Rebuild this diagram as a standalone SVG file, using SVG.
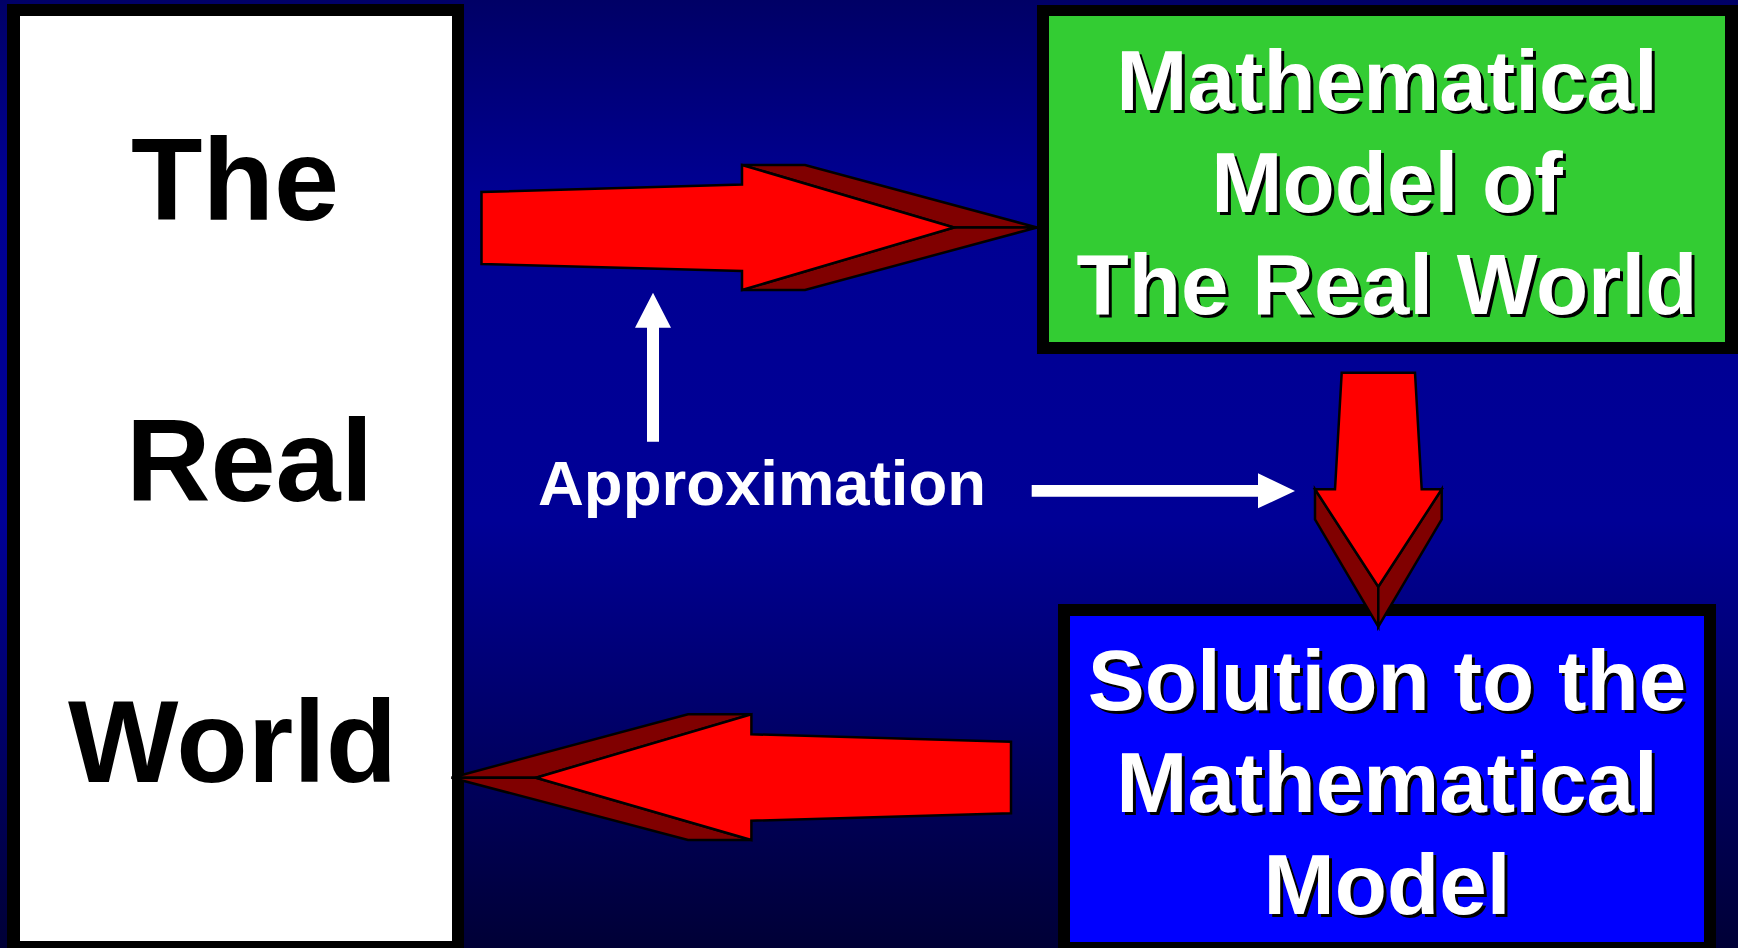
<svg xmlns="http://www.w3.org/2000/svg" width="1738" height="948" viewBox="0 0 1738 948">
<defs>
<linearGradient id="bg" x1="0" y1="0" x2="0" y2="1">
<stop offset="0" stop-color="#000066"/>
<stop offset="0.2" stop-color="#000092"/>
<stop offset="0.55" stop-color="#000096"/>
<stop offset="1" stop-color="#000036"/>
</linearGradient>
<style>
.big{font-family:"Liberation Sans",Arial,sans-serif;font-weight:bold;font-size:117px;fill:#000}
.box{font-family:"Liberation Sans",Arial,sans-serif;font-weight:bold;font-size:85.5px;text-anchor:middle}
.sh{fill:#000}
.fg{fill:#fff}
.red{fill:#ff0000;stroke:#000;stroke-width:2.5;stroke-linejoin:miter}
.dark{fill:#800000;stroke:#000;stroke-width:2.5;stroke-linejoin:miter}
.wa{fill:#fff}
.lbl{font-family:"Liberation Sans",Arial,sans-serif;font-weight:bold;font-size:63.5px;fill:#fff}
</style>
</defs>
<rect x="0" y="0" width="1738" height="948" fill="url(#bg)"/>

<g id="real-world">
<rect x="7" y="4" width="457" height="944" fill="#000"/>
<rect x="20" y="16" width="432" height="925" fill="#fff"/>
<text class="big" x="131" y="220">The</text>
<text class="big" x="126" y="501">Real</text>
<text class="big" x="68" y="782">World</text>
</g>

<g id="math-model">
<rect x="1037" y="5" width="701" height="349" fill="#000"/>
<rect x="1049" y="16" width="676" height="326" fill="#33cc33"/>
<g class="box sh" transform="translate(3,3)">
<text x="1387" y="110">Mathematical</text>
<text x="1387" y="212">Model of</text>
<text x="1387" y="314">The Real World</text>
</g>
<g class="box fg">
<text x="1387" y="110">Mathematical</text>
<text x="1387" y="212">Model of</text>
<text x="1387" y="314">The Real World</text>
</g>
</g>

<g id="solution">
<rect x="1058" y="604" width="658" height="344" fill="#000"/>
<rect x="1070" y="616" width="634" height="326" fill="#0000ff"/>
<g class="box sh" transform="translate(3,3)">
<text x="1387" y="710">Solution to the</text>
<text x="1387" y="812">Mathematical</text>
<text x="1387" y="914">Model</text>
</g>
<g class="box fg">
<text x="1387" y="710">Solution to the</text>
<text x="1387" y="812">Mathematical</text>
<text x="1387" y="914">Model</text>
</g>
</g>

<g id="approximation-label">
<text class="lbl" x="538" y="505">Approximation</text>
</g>

<g id="connectors">
<!-- top arrow: real world -> model -->
<polygon class="dark" points="742,165 805,165 1037,227.5 954,227.5"/>
<polygon class="dark" points="742,290 805,290 1037,227.5 954,227.5"/>
<polygon class="red" points="481.5,192 742,184.5 742,165 954,227.5 742,290 742,271 481.5,264"/>
<!-- down arrow: model -> solution -->
<polygon class="dark" points="1315,489.3 1315,519.3 1378.3,626.7 1378.3,586.7"/>
<polygon class="dark" points="1441.7,489.3 1441.7,519.3 1378.3,626.7 1378.3,586.7"/>
<polygon class="red" points="1341.7,372.7 1415,372.7 1421.7,489.3 1441.7,489.3 1378.3,586.7 1315,489.3 1335,489.3"/>
<!-- bottom arrow: solution -> real world -->
<polygon class="dark" points="751.4,714.3 688,714.3 451.6,777.7 536,777.7"/>
<polygon class="dark" points="751.4,840 688,840 451.6,777.7 536,777.7"/>
<polygon class="red" points="1011,741.7 751.4,734.3 751.4,714.3 536,777.7 751.4,840 751.4,820.7 1011,813.3"/>
<!-- white arrows -->
<polygon class="wa" points="647,441.7 647,327.7 635,327.7 653,292.7 671,327.7 659,327.7 659,441.7"/>
<polygon class="wa" points="1031.7,485 1258,485 1258,473.3 1295,491 1258,508.3 1258,496.7 1031.7,496.7"/>
</g>
</svg>
